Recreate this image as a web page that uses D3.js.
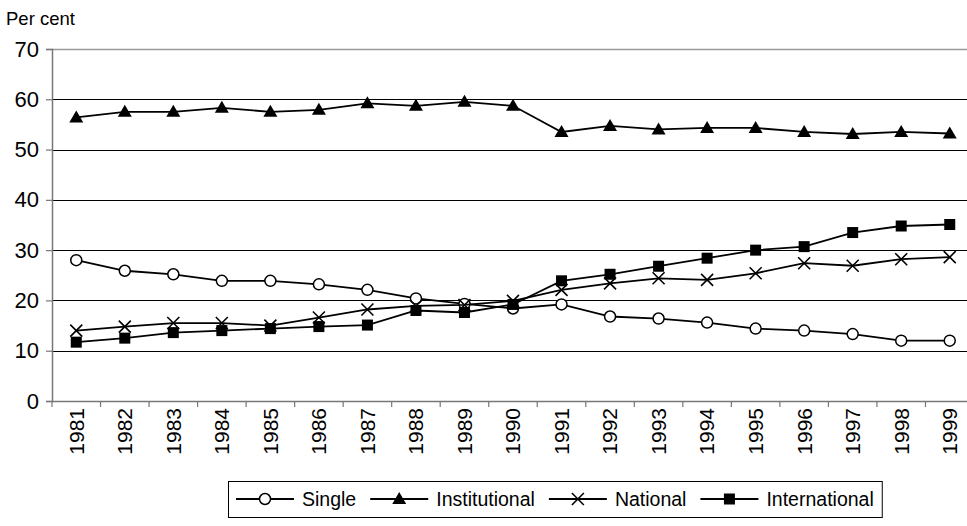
<!DOCTYPE html>
<html><head><meta charset="utf-8">
<script src="https://cdn.jsdelivr.net/npm/d3@7"></script>
<style>body{margin:0;background:#fff;} svg{display:block;font-family:Arial,"Liberation Sans",sans-serif;}</style>
</head><body>
<svg id="c" width="967" height="526"></svg>
<script>
const years = ["1981","1982","1983","1984","1985","1986","1987","1988","1989","1990","1991","1992","1993","1994","1995","1996","1997","1998","1999"];
const single = [28.0,25.9,25.2,23.9,23.9,23.2,22.1,20.4,19.3,18.4,19.2,16.8,16.4,15.6,14.4,14.0,13.3,12.0,12.0];
const institutional = [56.4,57.5,57.5,58.3,57.5,57.9,59.2,58.7,59.5,58.7,53.5,54.7,54.0,54.3,54.3,53.5,53.1,53.5,53.2];
const national = [14.0,14.8,15.5,15.5,15.0,16.6,18.2,18.9,19.1,19.9,22.1,23.4,24.4,24.1,25.4,27.4,26.9,28.2,28.6];
const international = [11.7,12.5,13.6,14.0,14.4,14.8,15.1,18.0,17.6,19.2,23.9,25.2,26.8,28.4,30.0,30.7,33.5,34.8,35.1];
const yTicks = [0,10,20,30,40,50,60,70];
const seriesNames = ["Single","Institutional","National","International"];
const seriesMarkers = ["circle","triangle","cross","square"];

const svg = d3.select("#c");
const FONT = "Arial, 'Liberation Sans', sans-serif";
const L = 52, R = 974, T = 49, B = 401;
const x = d3.scaleBand().domain(years).range([L, R]).padding(0);
const y = d3.scaleLinear().domain([0,70]).range([B, T]);
const cx = d => x(d) + x.bandwidth()/2;

// gridlines
svg.append("g").selectAll("line").data(yTicks.filter(t=>t>0 && t<70)).join("line")
  .attr("x1", L).attr("x2", R).attr("y1", d=>Math.round(y(d))+0.5).attr("y2", d=>Math.round(y(d))+0.5)
  .attr("stroke","#000").attr("stroke-width",1);
// plot border top
svg.append("line").attr("x1",L).attr("x2",R).attr("y1",Math.round(T)+0.5).attr("y2",Math.round(T)+0.5)
  .attr("stroke","#999").attr("stroke-width",1.5);

// y axis
const yAxis = d3.axisLeft(y).tickValues(yTicks).tickSize(6).tickPadding(7);
const gy = svg.append("g").attr("transform",`translate(${L},0)`).call(yAxis);
gy.select(".domain").attr("stroke","#777").attr("stroke-width",1.5);
gy.selectAll(".tick line").attr("stroke","#777").attr("stroke-width",1.2);
gy.selectAll(".tick text").attr("font-size",22).attr("fill","#000").attr("font-family",FONT);

// x axis
const xAxis = d3.axisBottom(x).tickSize(0).tickPadding(0);
const gx = svg.append("g").attr("transform",`translate(0,${B})`).call(xAxis);
gx.select(".domain").attr("stroke","#777").attr("stroke-width",1.5);
svg.append("g").selectAll("line").data(years.concat(["end"])).join("line")
  .attr("x1",(d,i)=>L + i*x.bandwidth()).attr("x2",(d,i)=>L + i*x.bandwidth())
  .attr("y1",B).attr("y2",B+6).attr("stroke","#777").attr("stroke-width",1.2);
gx.selectAll(".tick text")
  .attr("font-size",21).attr("fill","#000").attr("font-family",FONT)
  .attr("transform","rotate(-90)").attr("text-anchor","end").attr("dy","0.35em").attr("x",-7).attr("y",0);

// title
svg.append("text").attr("x",6).attr("y",25).attr("font-size",18.5).attr("font-family",FONT).text("Per cent");

// markers
function drawMarker(g, type, px, py){
  if(type==="circle") g.append("circle").attr("cx",px).attr("cy",py).attr("r",5.5).attr("fill","#fff").attr("stroke","#000").attr("stroke-width",1.5);
  else if(type==="triangle") g.append("path").attr("d",`M${px},${py-7}L${px+7},${py+5}L${px-7},${py+5}Z`).attr("fill","#000");
  else if(type==="square") g.append("rect").attr("x",px-5.5).attr("y",py-5.5).attr("width",11).attr("height",11).attr("fill","#000");
  else if(type==="cross") g.append("path").attr("d",`M${px-6},${py-6}L${px+6},${py+6}M${px+6},${py-6}L${px-6},${py+6}`).attr("stroke","#000").attr("stroke-width",1.6);
}
const data = [single, institutional, national, international];
const line = d3.line().x((d,i)=>cx(years[i])).y(d=>y(d));
data.forEach((vals, k) => {
  const g = svg.append("g");
  g.append("path").attr("d", line(vals)).attr("fill","none").attr("stroke","#000").attr("stroke-width",1.8);
  vals.forEach((v,i)=>drawMarker(g, seriesMarkers[k], cx(years[i]), y(v)));
});

// legend
const lg = svg.append("g");
const legLeft = 228, legTop = 481, legH = 36, legMid = legTop + legH/2;
let cur = legLeft + 8;
const sampleW = 58, gap1 = 8, gap2 = 14;
seriesNames.forEach((name,k)=>{
  lg.append("line").attr("x1",cur).attr("x2",cur+sampleW).attr("y1",legMid).attr("y2",legMid).attr("stroke","#000").attr("stroke-width",1.8);
  drawMarker(lg, seriesMarkers[k], cur+sampleW/2, legMid);
  const t = lg.append("text").attr("x",cur+sampleW+gap1).attr("y",legMid).attr("dy","0.35em").attr("font-size",19.5).attr("font-family",FONT).text(name);
  cur += sampleW + gap1 + t.node().getComputedTextLength() + gap2;
});
cur = cur - gap2 + 8;
lg.insert("rect",":first-child").attr("x",legLeft+0.5).attr("y",legTop+0.5).attr("width",cur-legLeft).attr("height",legH)
  .attr("fill","#fff").attr("stroke","#000").attr("stroke-width",1);
</script>
</body></html>
